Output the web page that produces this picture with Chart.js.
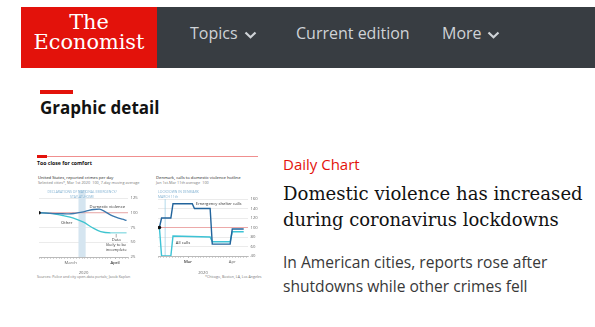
<!DOCTYPE html>
<html><head><meta charset="utf-8">
<script src="https://cdn.jsdelivr.net/npm/chart.js@4.4.1/dist/chart.umd.min.js"></script>
<style>
html,body{margin:0;padding:0;background:#fff;width:595px;height:327px;overflow:hidden;position:relative;font-family:"Open Sans",sans-serif;}
.a{position:absolute;white-space:nowrap;margin:0;}
#logo{left:21px;top:7px;width:136px;height:61px;background:#e3120b;}
#nav{left:157px;top:7px;width:438px;height:61px;background:#383d42;}
#lg{font-family:"DejaVu Serif",serif;color:#fff;width:136px;text-align:center;left:21px;}
.nav{color:#cfd3d7;font-size:16px;line-height:16px;top:25px;}
.chev{position:absolute;width:13px;height:8px;top:31px;}
#gdbar{left:40px;top:90px;width:33px;height:4px;background:#e3120b;}
#gd{left:40px;top:99px;font-size:17px;line-height:17px;font-weight:700;color:#121212;}
#daily{left:283px;top:157px;font-size:15px;line-height:15px;color:#e3120b;}
.hl{left:283px;font-family:"DejaVu Serif",serif;color:#121212;}
#sub{left:283px;top:249.6px;font-size:15.6px;line-height:24px;color:#383838;}
.t{font-size:4.2px;line-height:4.2px;color:#222;}
.s{font-size:3.8px;line-height:3.8px;color:#777;}
canvas{position:absolute;}
</style></head>
<body>
<div class="a" id="logo"></div>
<div class="a" id="nav"></div>
<div class="a" id="lg">The<br>Economist</div>
<div class="a nav" style="left:190px">Topics</div>
<svg class="chev" style="left:244px" viewBox="0 0 13 8"><polyline points="1.5,1.5 6.5,6.3 11.5,1.5" fill="none" stroke="#cfd3d7" stroke-width="2.2"/></svg>
<div class="a nav" style="left:296px">Current edition</div>
<div class="a nav" style="left:442px">More</div>
<svg class="chev" style="left:487px" viewBox="0 0 13 8"><polyline points="1.5,1.5 6.5,6.3 11.5,1.5" fill="none" stroke="#cfd3d7" stroke-width="2.2"/></svg>

<div class="a" id="gdbar"></div>
<div class="a" id="gd">Graphic detail</div>

<!-- thumbnail -->
<div class="a" style="left:37px;top:156px;width:221px;height:0.8px;background:#f08f8f"></div>
<div class="a" style="left:37px;top:155px;width:10px;height:3px;background:#e3120b"></div>
<div class="a" style="left:37px;top:161.4px;font-size:5.2px;line-height:5.2px;font-weight:700;color:#111">Too close for comfort</div>
<div class="a t" style="left:38px;top:175.8px">United States, reported crimes per day</div>
<div class="a s" style="left:38px;top:181.2px">Selected cities*, Mar 1st 2020=100, 7-day moving average</div>
<div class="a t" style="left:156px;top:175.8px">Denmark, calls to domestic violence hotline</div>
<div class="a s" style="left:156px;top:181.2px">Jan 1st-Mar 11th average=100</div>
<div class="a s" style="left:37px;top:274.5px;font-size:3.6px">Sources: Police and city open-data portals; Jacob Kaplan</div>
<div class="a s" style="left:205px;top:274.5px;font-size:3.6px">*Chicago, Boston, LA, Los Angeles</div>

<canvas id="c1" width="105" height="90" style="left:35px;top:185px;width:105px;height:90px"></canvas>
<canvas id="c2" width="108" height="90" style="left:154px;top:185px;width:108px;height:90px"></canvas>

<div class="a" id="daily">Daily Chart</div>
<div class="a hl" id="h1">Domestic violence has increased</div>
<div class="a hl" id="h2">during coronavirus lockdowns</div>
<div class="a" id="sub">In American cities, reports rose after<br>shutdowns while other crimes fell</div>

<script>
// ---- data (x = days relative to March 1st 2020) ----
const usDomesticDays = [-22,-15,-8,-1,3,8,12,16,20,24,28,32,36,39];
const usDomestic     = [100,99,98.5,98,99,101,103.5,105.5,106,102,96,92,89,87];
const usOtherDays    = [-22,-14,-5,2,9,15,21,28,34,39];
const usOther        = [100,99,95,91,84,75,68,66,66,66];
const usTicks        = [25,50,75,100,125];
const usMonths       = [{day:0,label:'March'},{day:31,label:'April'}];

const dkShelterDays  = [-20,-18.5,-12,-10.5,3,4.5,15.5,17,29.5,31,39];
const dkShelter      = [100,120,120,150,150,140,140,65,65,97,97];
const dkAllDays      = [-20,-18.5,-12,-10.5,15.5,17,29.5,31,39];
const dkAll          = [100,40,40,82,80,70,70,91,91];
const dkTicks        = [40,60,80,100,120,140,160];
const dkMonths       = [{day:0,label:'Mar'},{day:31,label:'Apr'}];

// ---- fit serif texts to the reference widths, placing them on their baselines ----
const mctx = document.createElement('canvas').getContext('2d');
function fit(id, family, sample, targetW, baseline, lh){
  const el = document.getElementById(id);
  mctx.font = '100px ' + family;
  const size = 100 * targetW / mctx.measureText(sample).width;
  const L = lh || size;
  el.style.fontSize = size + 'px';
  el.style.lineHeight = L + 'px';
  // DejaVu Serif: ascent .928, descent .236
  el.style.top = (baseline - ((L - 1.164*size)/2 + 0.928*size)) + 'px';
}
fit('lg','"DejaVu Serif"','Economist',111,29,20.3);
fit('h1','"DejaVu Serif"','Domestic violence has increased',300,200.7);
fit('h2','"DejaVu Serif"','during coronavirus lockdowns',276,226.2);

Chart.defaults.font.family = '"Open Sans", sans-serif';
const pts = (xs, ys) => xs.map((x,i)=>({x, y:ys[i]}));

const annot = {
  id:'annot',
  beforeDatasetsDraw(chart, args, o){
    const {ctx, chartArea:a, scales:{x,y}} = chart;
    ctx.save();
    (o.bands||[]).forEach(b=>{
      const x0=x.getPixelForValue(b.from), x1=x.getPixelForValue(b.to), y0=a.top-b.above;
      ctx.fillStyle=b.color; ctx.fillRect(x0,y0,x1-x0,a.bottom-y0);
    });
    (o.vlines||[]).forEach(v=>{
      const px=x.getPixelForValue(v.at);
      ctx.strokeStyle=v.color; ctx.lineWidth=v.width;
      ctx.beginPath(); ctx.moveTo(px,a.top); ctx.lineTo(px,a.bottom); ctx.stroke();
    });
    ctx.restore();
  },
  afterDatasetsDraw(chart, args, o){
    const {ctx, scales:{x,y}} = chart;
    ctx.save();
    (o.segs||[]).forEach(s=>{
      ctx.strokeStyle=s.color; ctx.lineWidth=s.width;
      ctx.beginPath(); ctx.moveTo(x.getPixelForValue(s.x),y.getPixelForValue(s.y0));
      ctx.lineTo(x.getPixelForValue(s.x),y.getPixelForValue(s.y1)); ctx.stroke();
    });
    (o.texts||[]).forEach(t=>{
      ctx.font=t.size+'px "Open Sans"';
      ctx.fillStyle=t.color; ctx.textAlign=t.align; ctx.textBaseline='middle';
      ctx.fillText(t.text, x.getPixelForValue(t.x), y.getPixelForValue(t.y));
    });
    ctx.restore();
  }
};

function xTicks(min,max,months){
  return (scale)=>{
    const t=[];
    for(let d=min; d<=max; d+=2){
      const m=months.find(mm=>Math.abs(mm.day-d)<=1);
      t.push({value: m? m.day : d});
    }
    scale.ticks=t;
  };
}

function makeChart(id, cfg){
  return new Chart(document.getElementById(id), {
    type:'line',
    data:{datasets:cfg.datasets},
    plugins:[annot],
    options:{
      responsive:false, animation:false, devicePixelRatio:1,
      layout:{padding:{top:cfg.padTop,left:3,right:0,bottom:0}},
      plugins:{legend:{display:false},tooltip:{enabled:false},annot:cfg.annot},
      elements:{point:{radius:0}},
      scales:{
        x:{type:'linear',min:cfg.xmin,max:cfg.xmax,
           afterBuildTicks:xTicks(cfg.xmin,cfg.xmax,cfg.months),
           afterFit:s=>{s.height=cfg.xh;},
           ticks:{autoSkip:false,maxRotation:0,padding:1.5,color:'#666',font:{size:4.2},
             callback:v=>{const m=cfg.months.find(mm=>mm.day===v);return m?m.label:'';}},
           grid:{drawOnChartArea:false,tickLength:1.6,color:'#8a8a8a',lineWidth:0.6},
           border:{display:true,color:'#9a9a9a',width:0.6,dash:[1.4,1.5]},
           title:{display:true,text:'2020',color:'#666',font:{size:4.2},padding:{top:1,bottom:0}}},
        y:{position:'right',min:cfg.ymin,max:cfg.ymax,
           afterBuildTicks:s=>{s.ticks=cfg.yticks.map(v=>({value:v}));},
           afterFit:s=>{s.width=cfg.yw;},
           ticks:{padding:2.5,color:'#666',font:{size:4.2}},
           grid:{color:'#dedede',lineWidth:0.6,drawTicks:false},
           border:{display:false}}
      }
    }
  });
}

makeChart('c1',{
  padTop:13, xmin:-22, xmax:40, ymin:25, ymax:125, yticks:usTicks, months:usMonths, xh:18, yw:12,
  datasets:[
    {data:[{x:-22,y:100}],pointRadius:1.8,pointBackgroundColor:'#111',pointBorderWidth:0,showLine:false},
    {data:pts(usDomesticDays,usDomestic),borderColor:'#3b78ad',borderWidth:1.3,cubicInterpolationMode:'monotone'},
    {data:pts(usOtherDays,usOther),borderColor:'#3ec4cf',borderWidth:1.3,cubicInterpolationMode:'monotone',
      segment:{borderColor:c=>c.p0.parsed.x>=28?'#8adbe2':undefined}},
    {data:[{x:-22,y:100},{x:40,y:100}],borderColor:'#ec8c8c',borderWidth:0.7}
  ],
  annot:{
    bands:[{from:5.5,to:10.5,above:8,color:'#d5e5f0'}],
    segs:[{x:31.8,y0:64,y1:58,color:'#555',width:0.5}],
    texts:[
      {text:'Domestic violence',x:25.6,y:110,size:4.2,color:'#333',align:'center'},
      {text:'Other',x:-2.7,y:82.6,size:4.2,color:'#333',align:'center'},
      {text:'DECLARATIONS OF NATIONAL EMERGENCY/',x:8,y:135,size:3.4,color:'#84b3d3',align:'center'},
      {text:'STAY-AT-HOME',x:8,y:126.7,size:3.4,color:'#84b3d3',align:'center'},
      {text:'Data',x:31.8,y:53.8,size:4,color:'#333',align:'center'},
      {text:'likely to be',x:31.8,y:45.3,size:4,color:'#333',align:'center'},
      {text:'incomplete',x:31.8,y:36.9,size:4,color:'#333',align:'center'}
    ]
  }
});

makeChart('c2',{
  padTop:14, xmin:-21, xmax:42, ymin:40, ymax:160, yticks:dkTicks, months:dkMonths, xh:19, yw:14,
  datasets:[
    {data:[{x:-20,y:100}],pointRadius:1.8,pointBackgroundColor:'#111',pointBorderWidth:0,showLine:false},
    {data:pts(dkShelterDays,dkShelter),borderColor:'#22649c',borderWidth:1.4},
    {data:pts(dkAllDays,dkAll),borderColor:'#3dc3d5',borderWidth:1.4},
    {data:[{x:-21,y:100},{x:42,y:100}],borderColor:'#ec8c8c',borderWidth:0.7}
  ],
  annot:{
    vlines:[{at:-16,color:'#9fd0e6',width:0.8}],
    texts:[
      {text:'Emergency shelter calls',x:5.5,y:150,size:4.2,color:'#333',align:'left'},
      {text:'All calls',x:-8.5,y:67,size:4.2,color:'#333',align:'left'},
      {text:'LOCKDOWN IN DENMARK',x:-21,y:174.7,size:3.4,color:'#84b3d3',align:'left'},
      {text:'MARCH 11th',x:-21,y:164,size:3.4,color:'#84b3d3',align:'left'}
    ]
  }
});
</script>
</body></html>
